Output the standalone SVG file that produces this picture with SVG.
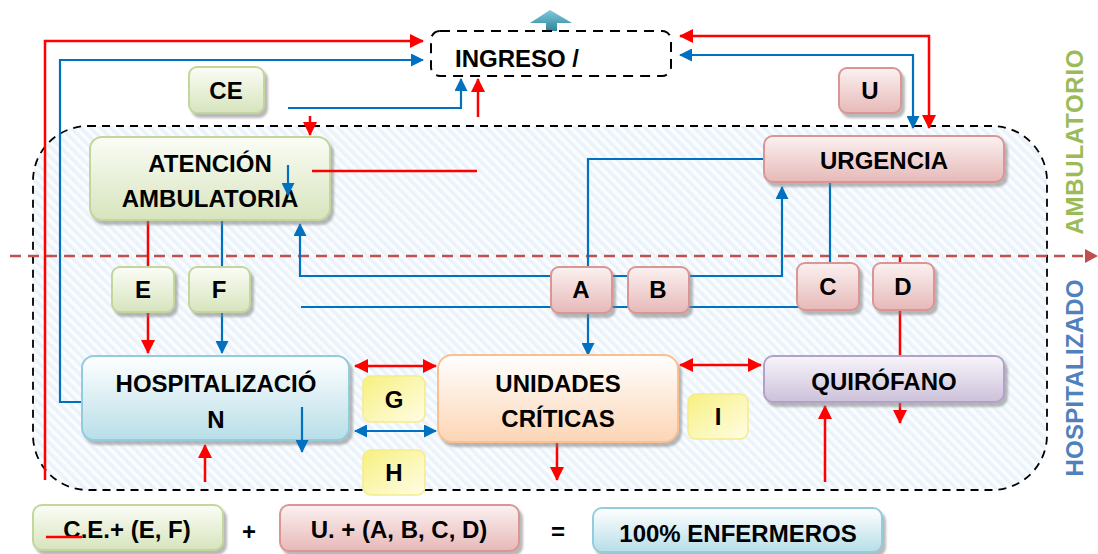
<svg xmlns="http://www.w3.org/2000/svg" width="1098" height="554" viewBox="0 0 1098 554">
<style>
.t{font-family:"Liberation Sans",Arial,sans-serif;font-weight:bold;font-size:24px;fill:#000;text-anchor:middle}
.r{fill:none;stroke:#FF0000;stroke-width:2.5}
.b{fill:none;stroke:#0070C0;stroke-width:2.2}
.ra{marker-end:url(#ar)}
.rs{marker-start:url(#ar)}
.ba{marker-end:url(#ab)}
.bs{marker-start:url(#ab)}
.g{fill:url(#gG);stroke:#C3D69B;stroke-width:2;filter:url(#sh)}
.p{fill:url(#gP);stroke:#D99694;stroke-width:2;filter:url(#sh)}
.h{fill:url(#gH);stroke:#93CDDD;stroke-width:2;filter:url(#sh)}
.o{fill:url(#gO);stroke:#FAC090;stroke-width:2;filter:url(#sh)}
.q{fill:url(#gQ);stroke:#B3A2C7;stroke-width:2;filter:url(#sh)}
.y{fill:url(#gY);stroke:#F5EC8A;stroke-width:1.5}
</style>
<defs>
<marker id="ar" viewBox="0 0 14 14" refX="13" refY="7" markerWidth="14" markerHeight="14" markerUnits="userSpaceOnUse" orient="auto-start-reverse"><path d="M0,0 L14,7 L0,14 z" fill="#FF0000"/></marker>
<marker id="ab" viewBox="0 0 13 13" refX="12" refY="6.5" markerWidth="13" markerHeight="13" markerUnits="userSpaceOnUse" orient="auto-start-reverse"><path d="M0,0 L13,6.5 L0,13 z" fill="#0070C0"/></marker>
<linearGradient id="gG" x1="0" y1="0" x2="0" y2="1"><stop offset="0" stop-color="#FBFDF6"/><stop offset="1" stop-color="#D7E4BD"/></linearGradient>
<linearGradient id="gP" x1="0" y1="0" x2="0" y2="1"><stop offset="0" stop-color="#FCF1F1"/><stop offset="1" stop-color="#E6B9B8"/></linearGradient>
<linearGradient id="gH" x1="0" y1="0" x2="0" y2="1"><stop offset="0" stop-color="#FFFFFF"/><stop offset="1" stop-color="#B7DEE8"/></linearGradient>
<linearGradient id="gO" x1="0" y1="0" x2="0" y2="1"><stop offset="0" stop-color="#FFFFFF"/><stop offset="1" stop-color="#FCD5B5"/></linearGradient>
<linearGradient id="gQ" x1="0" y1="0" x2="0" y2="1"><stop offset="0" stop-color="#F7F5FA"/><stop offset="1" stop-color="#CCC1DA"/></linearGradient>
<linearGradient id="gY" x1="0" y1="0" x2="1" y2="1"><stop offset="0" stop-color="#F7F07F"/><stop offset="1" stop-color="#FFFDE6"/></linearGradient>
<linearGradient id="gT" x1="0" y1="0" x2="0" y2="1"><stop offset="0" stop-color="#7FCBDC"/><stop offset="1" stop-color="#31849B"/></linearGradient>
<pattern id="hatch" width="7" height="7" patternUnits="userSpaceOnUse" patternTransform="rotate(-45)"><rect width="7" height="7" fill="#FAFCFE"/><rect width="3.5" height="7" fill="#EAF3FB"/></pattern>
<filter id="sh" x="-10%" y="-10%" width="130%" height="140%"><feDropShadow dx="3" dy="4" stdDeviation="1.2" flood-color="#7F7F7F" flood-opacity="0.55"/></filter>
</defs>
<rect width="1098" height="554" fill="#FFFFFF"/>
<g id="zona">
<rect x="33" y="126" width="1014" height="364" rx="55" fill="url(#hatch)" stroke="#000" stroke-width="1.8" stroke-dasharray="8 6"/>
</g>
<g id="separador">
<path d="M10 256 H1086" stroke="#C0504D" stroke-width="2.5" stroke-dasharray="11 7" fill="none"/>
<path d="M1085 249 L1098 256 L1085 263 z" fill="#C0504D"/>
</g>
<g id="etiquetas">
<text class="t" transform="translate(1083,142) rotate(-90)" style="fill:#9BBB59" textLength="185">AMBULATORIO</text>
<text class="t" transform="translate(1083,378) rotate(-90)" style="fill:#4F81BD" textLength="197">HOSPITALIZADO</text>
</g>
<g id="connectors-back">
<path class="r ra" d="M45 480 V41 H423"/>
<path class="b ba" d="M82 402 H60 V60 H423"/>
<path class="b ba" d="M288 108 H461 V79"/>
<path class="r ra" d="M478 117 V79"/>
<path class="r ra" d="M310 116 V135"/>
<path class="r ra rs" d="M680 36 H929 V128"/>
<path class="b ba bs" d="M680 55 H913 V128"/>
<path class="r ra" d="M148 220 V353"/>
<path class="b ba" d="M222 220 V353"/>
<path class="b ba bs" d="M300 224 V276 H782 V187"/>
<path class="b" d="M301 307 H799"/>
<path class="b ba" d="M764 159 H588 V355"/>
<path class="b" d="M830 182 V263"/>
<path class="r ra" d="M900 257 V423"/>
<path class="r ra" d="M205 482 V445"/>
<path class="r ra rs" d="M355 366 H436"/>
<path class="b ba bs" d="M355 431 H436"/>
<path class="r ra" d="M557 442 V480"/>
<path class="r ra rs" d="M680 365 H761"/>
<path class="r ra" d="M825 482 V406"/>
</g>
<g id="ingreso">
<path d="M546 31 V23 H530 L550 10 L572 23 H557 V31 z" fill="url(#gT)"/>
<rect x="431" y="31" width="240" height="45" rx="9" fill="#FFFFFF" stroke="#000" stroke-width="2" stroke-dasharray="10 7"/>
<text class="t" x="517" y="67">INGRESO /</text>
</g>
<g id="ce"><rect class="g" x="189" y="67" width="75" height="46" rx="8"/><text class="t" x="226" y="99">CE</text></g>
<g id="u"><rect class="p" x="839" y="68" width="62" height="45" rx="8"/><text class="t" x="870" y="99">U</text></g>
<g id="atencion"><rect class="g" x="90" y="137" width="240" height="83" rx="12"/><text class="t" x="210" y="172">ATENCIÓN</text><text class="t" x="210" y="207">AMBULATORIA</text></g>
<g id="urgencia"><rect class="p" x="764" y="136" width="240" height="46" rx="9"/><text class="t" x="884" y="169">URGENCIA</text></g>
<g id="e"><rect class="g" x="112" y="267" width="62" height="45" rx="8"/><text class="t" x="143" y="298">E</text></g>
<g id="f"><rect class="g" x="189" y="267" width="61" height="45" rx="8"/><text class="t" x="219" y="298">F</text></g>
<g id="a"><rect class="p" x="551" y="267" width="61" height="46" rx="8"/><text class="t" x="581" y="298">A</text></g>
<g id="b"><rect class="p" x="628" y="267" width="61" height="46" rx="8"/><text class="t" x="658" y="298">B</text></g>
<g id="c"><rect class="p" x="797" y="263" width="62" height="47" rx="8"/><text class="t" x="828" y="295">C</text></g>
<g id="d"><rect class="p" x="873" y="263" width="61" height="47" rx="8"/><text class="t" x="903" y="295">D</text></g>
<g id="hospitalizacion"><rect class="h" x="82" y="356" width="267" height="84" rx="12"/><text class="t" x="216" y="392">HOSPITALIZACIÓ</text><text class="t" x="216" y="428">N</text></g>
<g id="unidades"><rect class="o" x="438" y="355" width="240" height="87" rx="14"/><text class="t" x="558" y="392">UNIDADES</text><text class="t" x="558" y="427">CRÍTICAS</text></g>
<g id="quirofano"><rect class="q" x="764" y="356" width="240" height="46" rx="9"/><text class="t" x="884" y="390">QUIRÓFANO</text></g>
<g id="g"><rect class="y" x="363" y="376" width="62" height="46" rx="8"/><text class="t" x="394" y="408">G</text></g>
<g id="h"><rect class="y" x="363" y="450" width="62" height="45" rx="8"/><text class="t" x="394" y="481">H</text></g>
<g id="i"><rect class="y" x="688" y="394" width="60" height="45" rx="8"/><text class="t" x="718" y="425">I</text></g>
<g id="connectors-front">
<path class="b ba" d="M288 165 V195"/>
<path class="r" d="M312 171 H477"/>
<path class="b ba" d="M302 407 V452"/>
</g>
<g id="formula">
<g id="ce-ef"><rect class="g" x="33" y="505" width="190" height="45" rx="9"/><text class="t" x="127" y="538">C.E.+ (E, F)</text><path class="r" d="M46 537 H82"/></g>
<text class="t" x="249" y="540">+</text>
<g id="u-abcd"><rect class="p" x="280" y="505" width="239" height="46" rx="9"/><text class="t" x="399" y="538">U. + (A, B, C, D)</text></g>
<text class="t" x="558" y="540">=</text>
<g id="enfermeros"><rect class="h" x="593" y="508" width="289" height="44" rx="9"/><text class="t" x="738" y="542">100% ENFERMEROS</text></g>
</g>
</svg>
